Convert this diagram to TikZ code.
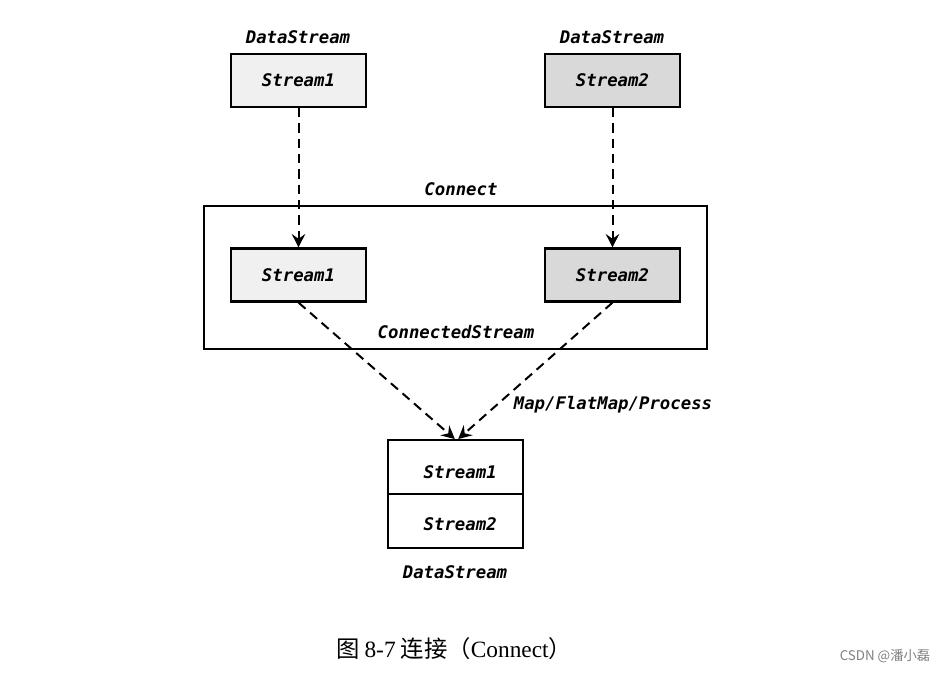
\documentclass[tikz,border=0pt]{standalone}
\usepackage{fontspec}
\setmonofont{DejaVu Sans Mono}
\newfontfamily\cjk{Noto Sans CJK SC}
\newfontfamily\capserif{Liberation Serif}
\usetikzlibrary{arrows.meta}
\definecolor{lightfill}{HTML}{F0F0F0}
\definecolor{darkfill}{HTML}{D9D9D9}
\tikzset{
  lbl/.style={font=\fontsize{13}{15}\selectfont\ttfamily\bfseries\itshape, inner sep=0pt},
  sbox/.style={draw, line width=1.6pt, minimum width=101.25pt, minimum height=39.75pt, inner sep=0pt, font=\fontsize{13}{15}\selectfont\ttfamily\bfseries\itshape},
  sbox1/.style={sbox, fill=lightfill},
  sbox2/.style={sbox, fill=darkfill},
  cell/.style={draw, line width=1.4pt, minimum width=101.25pt, minimum height=40.5pt, inner sep=0pt, font=\fontsize{13}{15}\selectfont\ttfamily\bfseries\itshape},
  flow/.style={line width=1.5pt, dash pattern=on 7pt off 4.5pt, -{Stealth[length=10pt,width=10pt,inset=3.5pt]}},
}
\begin{document}
\begin{tikzpicture}[x=0.75pt,y=-0.75pt]
\useasboundingbox (0,0) rectangle (950,672);
% top
\node[lbl] (l1) at (298,37) {DataStream};
\node[lbl] (l2) at (612,37) {DataStream};
\node[sbox1] (a1) at (298.5,80.5) {Stream1};
\node[sbox2] (a2) at (612.5,80.5) {Stream2};
% connect box
\node[lbl] (lc) at (461,189) {Connect};
\node[draw, line width=1.6pt, minimum width=377.25pt, minimum height=107.25pt, inner sep=0pt] (big) at (455.5,277.5) {};
\node[sbox1] (b1) at (298.5,275) {Stream1};
\node[sbox2] (b2) at (612.5,275) {Stream2};
\node[lbl] (lcs) at (456,332) {ConnectedStream};
% bottom
\node[cell] (c1) at (455.5,467) {\hspace*{7pt}\raisebox{-8.5pt}[0pt][0pt]{Stream1}};
\node[cell] (c2) at (455.5,521) {\hspace*{7pt}\raisebox{-7pt}[0pt][0pt]{Stream2}};
\node[lbl] (ld) at (455,572) {DataStream};
\node[lbl] (lm) at (613,405) {Map/FlatMap/Process};
% arrows
\draw[flow] (a1.south) -- (b1.north);
\draw[flow] (a2.south) -- (b2.north);
\draw[flow] (b1.south) -- ([xshift=-0.5]c1.north);
\draw[flow] (b2.south) -- ([xshift=2]c1.north);
% caption
\node[inner sep=0pt, font=\fontsize{17.5}{20}\selectfont\cjk] (cap) at (454,649) {图 {\capserif 8-7} 连接（{\capserif Connect}）};
\node[inner sep=0pt, font=\fontsize{10}{12}\selectfont\cjk, text=gray] (wm) at (885,656) {CSDN @潘小磊};
\end{tikzpicture}
\end{document}
